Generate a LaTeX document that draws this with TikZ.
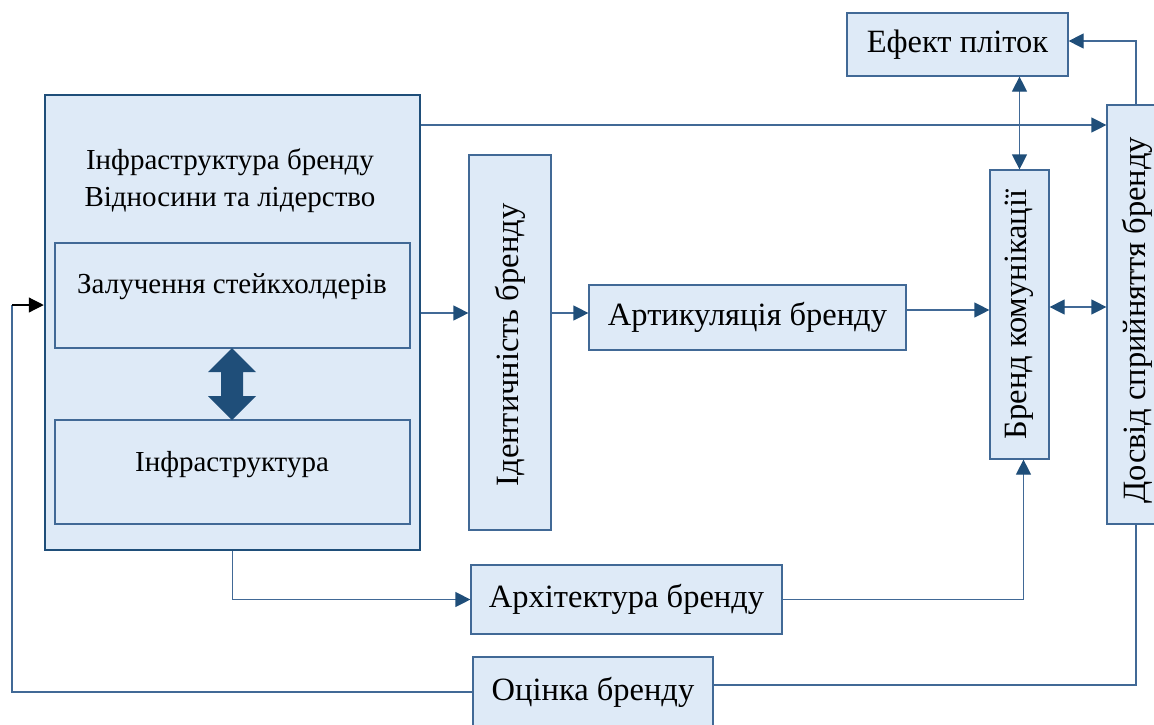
\documentclass[tikz,border=0pt]{standalone}
\usepackage{fontspec}
\setmainfont{Liberation Serif}
\usetikzlibrary{arrows.meta}
\definecolor{boxfill}{RGB}{222,234,247}
\definecolor{boxline}{RGB}{65,105,150}
\definecolor{headblue}{RGB}{31,78,121}

\begin{document}
\begin{tikzpicture}[x=1pt,y=-1pt,
  box/.style={draw=boxline,fill=boxfill,line width=1.2pt,inner sep=0pt},
  txt/.style={font=\fontsize{32.5}{38}\selectfont},
  intxt/.style={font=\fontsize{29}{37}\selectfont},
  link/.style={draw=boxline,line width=1.2pt},
  >={Triangle[length=15pt,width=15pt,color=headblue]}]
  \useasboundingbox (0,0) rectangle (1154,724);
  \clip (0,0) rectangle (1154,724);

  % big block on the left
  \node[box,draw=headblue,line width=2.5pt,minimum width=375,minimum height=455] (infra) at (232.5,322.5) {};
  \node[intxt,align=center] (title) at (230,181) {Інфраструктура бренду\\Відносини та лідерство};
  \node[box,minimum width=355,minimum height=105] (zaluch) at (232.5,295.5) {};
  \node[intxt] (zaluchtxt) at (232,287) {Залучення стейкхолдерів};
  \node[box,minimum width=355,minimum height=104] (infbox) at (232.5,472) {};
  \node[intxt] (infboxtxt) at (232,465) {Інфраструктура};
  \fill[headblue] (232,348) -- (256,372) -- (243,372) -- (243,396) -- (256,396) -- (232,420)
    -- (208,396) -- (221,396) -- (221,372) -- (208,372) -- cycle;

  % other blocks
  \node[box,minimum width=82,minimum height=375] (ident) at (510,342.5) {};
  \node[txt,rotate=90] at (510,345) {Ідентичність бренду};
  \node[box,txt,minimum width=317,minimum height=65] (artik) at (747.5,317.5) {Артикуляція бренду};
  \node[box,minimum width=59,minimum height=289] (brend) at (1019.5,314.5) {};
  \node[txt,rotate=90] at (brend) {Бренд комунікації};
  \node[box,minimum width=58,minimum height=419] (dosvid) at (1136,314.5) {};
  \node[txt,rotate=90] at (1137,320) {Досвід сприйняття бренду};
  \node[box,txt,minimum width=221,minimum height=63] (efekt) at (957.5,44.5) {Ефект пліток};
  \node[box,txt,minimum width=311,minimum height=69] (arkh) at (626.5,599.5) {Архітектура бренду};
  \node[box,txt,minimum width=240,minimum height=70] (ocinka) at (593,692) {Оцінка бренду};

  % connectors
  \draw[link,->] (infra.east |- 0,125) -- (dosvid.west |- 0,125);
  \draw[link,->] (infra.east |- 0,313) -- (ident.west |- 0,313);
  \draw[link,->] (ident.east |- 0,313) -- (artik.west |- 0,313);
  \draw[link,->] (artik.east |- 0,310) -- (brend.west |- 0,310);
  \draw[link,<->] (brend.east |- 0,307) -- (dosvid.west |- 0,307);
  \draw[link,<->] (efekt.south -| brend.north) -- (brend.north);
  \draw[link,->] (dosvid.north) |- ([yshift=3.5pt]efekt.east);
  \draw[link,->] (infra.south) |- (arkh.west);
  \draw[link,->] (arkh.east) -| ([xshift=4pt]brend.south);
  \draw[link] (dosvid.south) |- (ocinka.east |- 0,685);
  \coordinate (back) at (12,305);
  \draw[link] (ocinka.west) -| (back);
  \draw[line width=1.2pt,-{Triangle[length=15pt,width=15pt,color=black]}] (back) -- (infra.west |- back);
\end{tikzpicture}
\end{document}
